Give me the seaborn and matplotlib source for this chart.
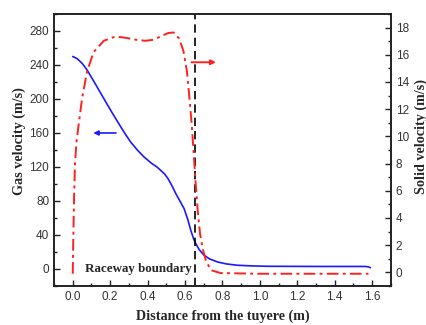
import matplotlib
matplotlib.use("Agg")
import matplotlib.pyplot as plt
import seaborn as sns
import pandas as pd
from matplotlib.ticker import MultipleLocator, FormatStrFormatter

# ---- data ----
x_gas = [0.0, 0.023, 0.05, 0.077, 0.12, 0.166, 0.21, 0.246, 0.28, 0.309, 0.345, 0.38,
         0.42, 0.45, 0.47, 0.49, 0.51, 0.53, 0.55, 0.57, 0.595, 0.615, 0.63, 0.645,
         0.657, 0.675, 0.70, 0.73, 0.773, 0.82, 0.88, 0.95, 1.04, 1.3, 1.56, 1.58, 1.59]
gas_v = [250, 247.5, 242, 234, 218, 200.5, 184, 171, 159, 149.5, 140, 132,
         124.5, 120, 116, 112, 106, 98, 89, 81, 71, 58, 46, 36,
         30, 23, 16.5, 12, 8.3, 6, 4.4, 3.7, 3.2, 3.0, 3.0, 2.5, 1.5]

x_solid = [0.0, 0.003, 0.007, 0.012, 0.02, 0.032, 0.05, 0.077, 0.112, 0.166, 0.229, 0.291,
           0.34, 0.389, 0.43, 0.47, 0.51, 0.54, 0.568, 0.591, 0.61, 0.621, 0.635, 0.645,
           0.657, 0.668, 0.68, 0.695, 0.711, 0.737, 0.79, 1.0, 1.58]
solid_v = [-0.1, 2.5, 5.5, 8.0, 9.6, 10.9, 12.8, 14.8, 16.2, 17.03, 17.35, 17.23,
           17.1, 17.03, 17.1, 17.35, 17.6, 17.64, 17.2, 16.3, 14.8, 13.2, 11.0, 9.0,
           6.5, 4.5, 2.86, 1.7, 0.9, 0.17, -0.05, -0.1, -0.1]

boundary_x = 0.655
x_ticks = [0.0, 0.2, 0.4, 0.6, 0.8, 1.0, 1.2, 1.4, 1.6]
gas_ticks = [0, 40, 80, 120, 160, 200, 240, 280]
solid_ticks = [0, 2, 4, 6, 8, 10, 12, 14, 16, 18]

df_gas = pd.DataFrame({"x": x_gas, "v": gas_v})
df_solid = pd.DataFrame({"x": x_solid, "v": solid_v})

sns.set_style("white")
plt.rcParams["font.family"] = ["Liberation Sans", "DejaVu Sans"]

fig = plt.figure(figsize=(4.27, 3.25), dpi=100)
ax = fig.add_axes([0.1265, 0.12, 0.789, 0.837])
ax2 = ax.twinx()

sns.lineplot(data=df_gas, x="x", y="v", ax=ax, color="#1a1aff", linewidth=1.2,
             sort=False, estimator=None)
sns.lineplot(data=df_solid, x="x", y="v", ax=ax2, color="#ff2020", linewidth=1.4,
             sort=False, estimator=None)
ax2.lines[0].set_dashes([6, 2.2, 1.5, 2.2])

ax.axvline(boundary_x, color="black", linewidth=1.2, dashes=(5, 3))

ax.set_xlim(-0.1, 1.7)
ax.set_ylim(-20, 300)
ax2.set_ylim(-1, 19)

ax.set_xticks(x_ticks)
ax.xaxis.set_major_formatter(FormatStrFormatter("%.1f"))
ax.xaxis.set_minor_locator(MultipleLocator(0.1))
ax.set_yticks(gas_ticks)
ax.yaxis.set_minor_locator(MultipleLocator(20))
ax2.set_yticks(solid_ticks)
ax2.yaxis.set_minor_locator(MultipleLocator(1))

for a in (ax, ax2):
    for s in a.spines.values():
        s.set_color("#222222")
        s.set_linewidth(1.2)
    a.tick_params(which="both", direction="in", colors="#222222", labelsize=8.5,
                  labelcolor="#333333")
    a.tick_params(which="major", length=4, width=1)
    a.tick_params(which="minor", length=2.5, width=1)
ax.tick_params(which="both", bottom=True, left=True, top=False, right=False)
ax2.tick_params(which="both", right=True, left=False)

lab = dict(family=["Liberation Serif", "DejaVu Serif"], fontweight="bold", fontsize=10.2)
ax.set_xlabel("Distance from the tuyere (m)", labelpad=5, **lab)
ax.set_ylabel("Gas velocity (m/s)", **lab)
ax2.set_ylabel("Solid velocity (m/s)", **lab)
ax.yaxis.set_label_coords(-0.083, 0.533)
ax2.yaxis.set_label_coords(1.071, 0.548)

ax.text(boundary_x - 0.02, 0, "Raceway boundary", ha="right", va="center",
        family=["Liberation Serif", "DejaVu Serif"], fontweight="bold", fontsize=9.4)

ax.annotate("", xy=(0.095, 160), xytext=(0.246, 160),
            arrowprops=dict(arrowstyle="-|>", color="#1a1aff", lw=1.2,
                            mutation_scale=7))
ax2.annotate("", xy=(0.78, 15.45), xytext=(0.62, 15.45),
             arrowprops=dict(arrowstyle="-|>", color="#ff2020", lw=1.4,
                             mutation_scale=7))

fig.savefig("out.png", dpi=100)
